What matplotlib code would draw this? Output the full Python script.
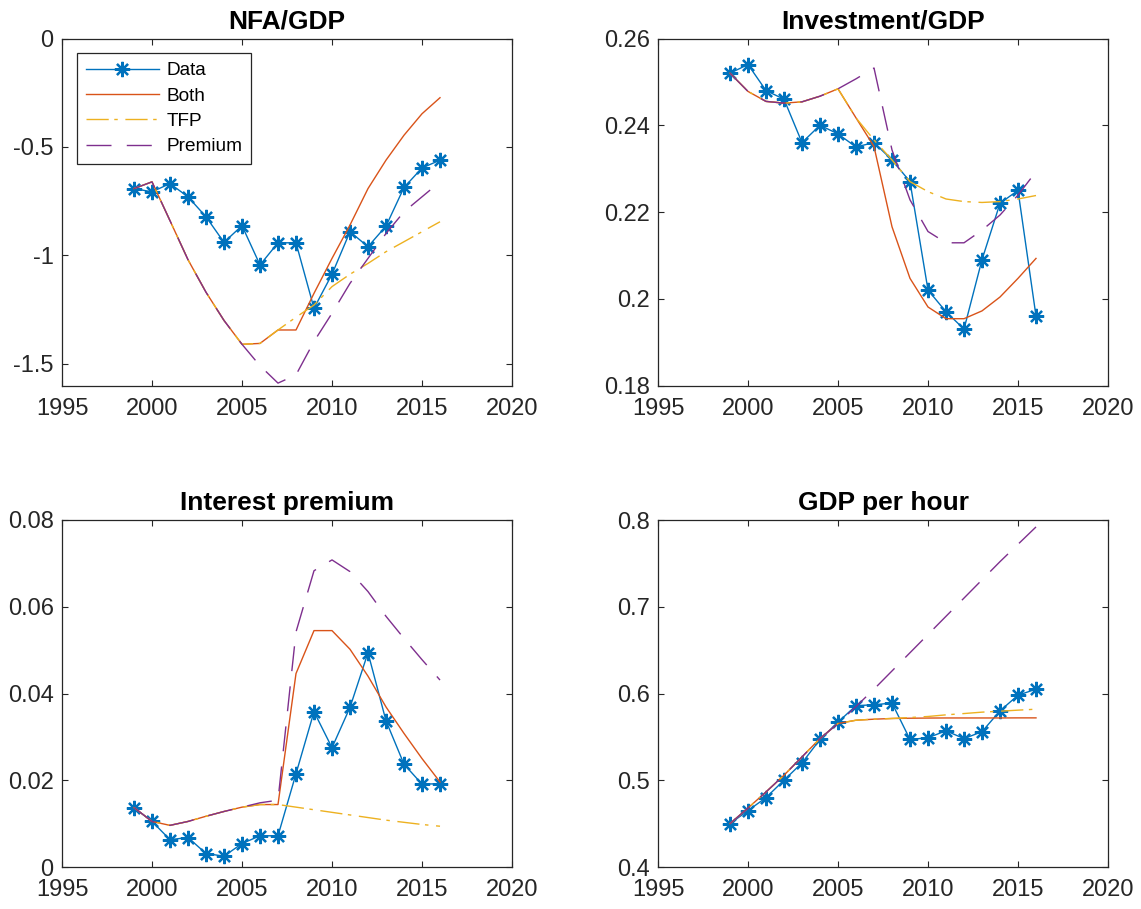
import numpy as np
import matplotlib
matplotlib.use('Agg')
import matplotlib.pyplot as plt
from matplotlib.ticker import FuncFormatter

plt.rcParams['font.family'] = ['Liberation Sans', 'DejaVu Sans']
plt.rcParams['axes.unicode_minus'] = False

years = list(range(1999, 2017))

# NFA/GDP
nfa_data = [-0.692, -0.707, -0.669, -0.730, -0.822, -0.940, -0.863, -1.044, -0.942, -0.942,
            -1.244, -1.087, -0.891, -0.960, -0.865, -0.687, -0.597, -0.561]
nfa_both = [-0.692, -0.661, -0.840, -1.020, -1.170, -1.300, -1.410, -1.406, -1.344, -1.344,
            -1.175, -1.014, -0.860, -0.692, -0.561, -0.446, -0.347, -0.273]
nfa_tfp = [-0.692, -0.661, -0.840, -1.020, -1.170, -1.300, -1.410, -1.406, -1.344, -1.285,
           -1.229, -1.144, -1.087, -1.037, -0.983, -0.937, -0.891, -0.845]
nfa_prem = [-0.692, -0.661, -0.840, -1.020, -1.170, -1.300, -1.410, -1.509, -1.589, -1.551,
            -1.397, -1.267, -1.129, -1.014, -0.899, -0.799, -0.730, -0.661]

# Investment/GDP
inv_data = [0.252, 0.254, 0.248, 0.246, 0.236, 0.240, 0.238, 0.235, 0.236, 0.232,
            0.227, 0.202, 0.197, 0.193, 0.209, 0.222, 0.225, 0.196]
inv_both = [0.252, 0.2478, 0.2455, 0.2451, 0.2454, 0.2467, 0.2484, 0.2417, 0.2351, 0.2166,
            0.2047, 0.1981, 0.1954, 0.1954, 0.1972, 0.2004, 0.2047, 0.2093]
inv_tfp = [0.252, 0.2478, 0.2455, 0.2451, 0.2454, 0.2467, 0.2484, 0.2417, 0.2366, 0.2320,
           0.2270, 0.2247, 0.2230, 0.2224, 0.2222, 0.2224, 0.2230, 0.2238]
inv_prem = [0.252, 0.2478, 0.2455, 0.2451, 0.2454, 0.2467, 0.2484, 0.2507, 0.2532, 0.2343,
            0.2228, 0.2155, 0.2129, 0.2129, 0.2158, 0.2193, 0.2239, 0.2293]

# Interest premium
prem_data = [0.0137, 0.0105, 0.0063, 0.0068, 0.0031, 0.0025, 0.0054, 0.0072, 0.0072, 0.0215,
             0.0358, 0.0275, 0.0368, 0.0494, 0.0337, 0.0237, 0.0191, 0.0192]
prem_both = [0.0137, 0.0105, 0.0096, 0.0105, 0.0117, 0.0128, 0.0138, 0.0144, 0.0144, 0.0446,
             0.0545, 0.0545, 0.0502, 0.0440, 0.0369, 0.0308, 0.0250, 0.0196]
prem_tfp = [0.0137, 0.0105, 0.0096, 0.0105, 0.0117, 0.0128, 0.0138, 0.0144, 0.0144, 0.0138,
            0.0132, 0.0126, 0.0120, 0.0114, 0.0108, 0.0103, 0.0098, 0.0094]
prem_prem = [0.0137, 0.0105, 0.0096, 0.0105, 0.0117, 0.0128, 0.0138, 0.0148, 0.0154, 0.0542,
             0.0683, 0.0708, 0.0681, 0.0635, 0.0578, 0.0527, 0.0478, 0.0431]

# GDP per hour
gdp_data = [0.450, 0.465, 0.480, 0.500, 0.520, 0.547, 0.567, 0.586, 0.587, 0.589,
            0.547, 0.549, 0.557, 0.548, 0.556, 0.580, 0.598, 0.605]
gdp_both = [0.450, 0.468, 0.4865, 0.5058, 0.5269, 0.5481, 0.5654, 0.5692, 0.5704, 0.5712,
            0.5715, 0.5717, 0.5718, 0.5718, 0.5718, 0.5718, 0.5719, 0.5719]
gdp_tfp = [0.450, 0.468, 0.4865, 0.5058, 0.5269, 0.5481, 0.5654, 0.5692, 0.5704, 0.5712,
           0.5723, 0.5735, 0.5754, 0.5769, 0.5785, 0.5796, 0.5808, 0.5819]
gdp_prem = [0.450, 0.468, 0.4865, 0.5058, 0.5269, 0.5481, 0.5654, 0.585, 0.605, 0.626,
            0.647, 0.668, 0.689, 0.710, 0.731, 0.752, 0.772, 0.792]

panels = [
    ('NFA/GDP', nfa_data, nfa_both, nfa_tfp, nfa_prem, (-1.6, 0), np.arange(-1.5, 0.01, 0.5)),
    ('Investment/GDP', inv_data, inv_both, inv_tfp, inv_prem, (0.18, 0.26), np.arange(0.18, 0.2601, 0.02)),
    ('Interest premium', prem_data, prem_both, prem_tfp, prem_prem, (0, 0.08), np.arange(0, 0.0801, 0.02)),
    ('GDP per hour', gdp_data, gdp_both, gdp_tfp, gdp_prem, (0.4, 0.8), np.arange(0.4, 0.801, 0.1)),
]

blue = '#0072BD'
red = '#D95319'
yellow = '#EDB120'
purple = '#7E2F8E'
axcol = '#262626'

# asterisk marker: '+' and 'x' on top of each other
star = (8, 2, 0)

fig = plt.figure(figsize=(11.41, 9.09), dpi=100)
W, H = 1141.0, 909.0
boxes = [(62, 38.5), (658, 38.5), (62, 520), (658, 520)]

for (title, d, b, t, p, ylim, yt), (x0, y0) in zip(panels, boxes):
    ax = fig.add_axes([x0 / W, 1 - (y0 + 347) / H, 450 / W, 347 / H])
    ax.plot(years, d, '-', color=blue, lw=1.0, marker=star, ms=11, mew=1.6, label='Data', zorder=2)
    ax.plot(years, b, '-', color=red, lw=1.0, label='Both', zorder=3)
    ax.plot(years, t, color=yellow, lw=1.0, dashes=[16, 4, 2.5, 5.5], label='TFP', zorder=4)
    ax.plot(years, p, color=purple, lw=1.0, dashes=[18, 11], label='Premium', zorder=5)

    ax.set_xlim(1995, 2020)
    ax.set_ylim(*ylim)
    ax.set_xticks(range(1995, 2021, 5))
    ax.set_yticks(yt)
    ax.yaxis.set_major_formatter(FuncFormatter(lambda v, pos: '%g' % round(v, 4)))
    ax.tick_params(direction='in', length=4, width=0.8, top=True, right=True,
                   labelsize=17, colors=axcol)
    ax.tick_params(axis='x', pad=9)
    ax.tick_params(axis='y', pad=6)
    for s in ax.spines.values():
        s.set_color(axcol)
        s.set_linewidth(0.9)
    ax.set_title(title, fontsize=19, fontweight='bold', pad=7)

    if title == 'NFA/GDP':
        leg = ax.legend(loc='upper left', bbox_to_anchor=(0.034, 0.957), borderaxespad=0,
                        fontsize=13.7, handlelength=3.85, handletextpad=0.38, labelspacing=0.42,
                        borderpad=0.45, fancybox=False, framealpha=1, edgecolor=axcol)
        leg.get_frame().set_linewidth(0.9)

plt.savefig('out.png', dpi=100)
